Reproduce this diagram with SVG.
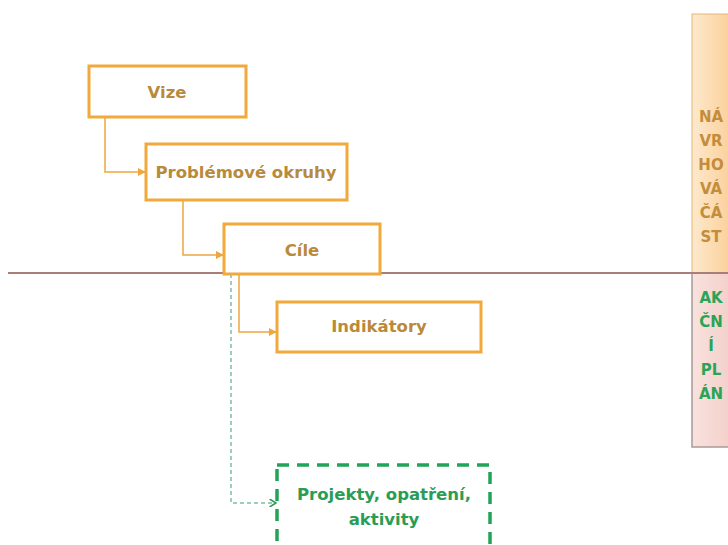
<svg xmlns="http://www.w3.org/2000/svg" width="728" height="545" viewBox="0 0 728 545">
<style>
.box{fill:#fff;stroke:#f0a93a;stroke-width:3}
.t{font-family:"DejaVu Sans",Verdana,sans-serif;font-weight:bold;font-size:16.5px;fill:#b98a3a;text-anchor:middle;dominant-baseline:central}
.g{fill:#2a9d55}
.side{font-family:"DejaVu Sans",Verdana,sans-serif;font-weight:bold;font-size:15px;text-anchor:middle;dominant-baseline:central}
.conn{fill:none;stroke:#eda640;stroke-width:1.5}
</style>
<defs>
<linearGradient id="peach" x1="0" y1="0" x2="1" y2="0">
<stop offset="0" stop-color="#fde9cd"/>
<stop offset="1" stop-color="#fbcf98"/>
</linearGradient>
<linearGradient id="pink" x1="0" y1="0" x2="1" y2="0">
<stop offset="0" stop-color="#f9e2de"/>
<stop offset="1" stop-color="#f3cfc9"/>
</linearGradient>
<marker id="ar" viewBox="0 0 10 10" refX="9" refY="5" markerWidth="8" markerHeight="8" orient="auto" markerUnits="userSpaceOnUse">
<path d="M0,0 L10,5 L0,10 z" fill="#eda640"/>
</marker>
<marker id="ag" viewBox="0 0 10 10" refX="9" refY="5" markerWidth="8" markerHeight="8" orient="auto" markerUnits="userSpaceOnUse">
<path d="M1,0 L9,5 L1,10" fill="none" stroke="#2a9d55" stroke-width="2"/>
</marker>
</defs>
<rect width="728" height="545" fill="#fff"/>
<g id="panel-navrh">
<rect x="692" y="14" width="40" height="259" fill="url(#peach)" stroke="#e2b77a" stroke-width="1"/>
<text class="side" fill="#c38d3b" x="711" y="117">NÁ</text>
<text class="side" fill="#c38d3b" x="711" y="141">VR</text>
<text class="side" fill="#c38d3b" x="711" y="165">HO</text>
<text class="side" fill="#c38d3b" x="711" y="189">VÁ</text>
<text class="side" fill="#c38d3b" x="711" y="213">ČÁ</text>
<text class="side" fill="#c38d3b" x="711" y="237">ST</text>
</g>
<g id="panel-akcni">
<rect x="692" y="273" width="40" height="174" fill="url(#pink)" stroke="#a89a98" stroke-width="1.5"/>
<text class="side" fill="#2aa456" x="711" y="298">AK</text>
<text class="side" fill="#2aa456" x="711" y="322">ČN</text>
<text class="side" fill="#2aa456" x="711" y="346">Í</text>
<text class="side" fill="#2aa456" x="711" y="370">PL</text>
<text class="side" fill="#2aa456" x="711" y="394">ÁN</text>
</g>
<line id="divider" x1="8" y1="273" x2="728" y2="273" stroke="#a77e78" stroke-width="2"/>
<g id="connectors">
<path class="conn" d="M105,117 V172 H145" marker-end="url(#ar)"/>
<path class="conn" d="M183,200 V255 H223" marker-end="url(#ar)"/>
<path class="conn" d="M239,274 V332 H276" marker-end="url(#ar)"/>
<path d="M231,274 V503 H276" fill="none" stroke="#3a9a78" stroke-width="1" stroke-dasharray="4 3" marker-end="url(#ag)"/>
</g>
<g id="vize">
<rect class="box" x="89" y="66" width="157" height="51"/>
<text class="t" x="167" y="92">Vize</text>
</g>
<g id="problemove-okruhy">
<rect class="box" x="146" y="144" width="201" height="56"/>
<text class="t" x="246" y="172">Problémové okruhy</text>
</g>
<g id="cile">
<rect class="box" x="224" y="224" width="156" height="50"/>
<text class="t" x="302" y="250">Cíle</text>
</g>
<g id="indikatory">
<rect class="box" x="277" y="302" width="204" height="50"/>
<text class="t" x="379" y="326">Indikátory</text>
</g>
<g id="projekty">
<rect x="277" y="465" width="213" height="95" fill="#fff" stroke="#22a458" stroke-width="3.5" stroke-dasharray="12 8"/>
<text class="t g" x="384" y="494">Projekty, opatření,</text>
<text class="t g" x="384" y="519">aktivity</text>
</g>
</svg>
